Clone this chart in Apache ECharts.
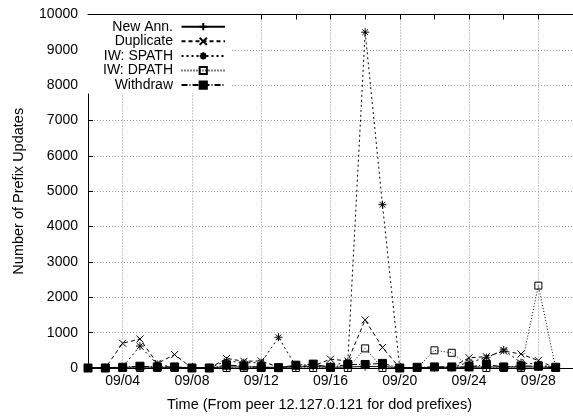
<!DOCTYPE html>
<html>
<head>
<meta charset="utf-8">
<script src="https://cdn.jsdelivr.net/npm/echarts@6/dist/echarts.min.js"></script>
<style>
html,body{margin:0;padding:0;background:#fff;}
#chart{width:573px;height:417px;}
</style>
</head>
<body>
<div id="chart"></div>
<script>
// Categories (days); last one is the axis end with no data
const days = ['09/02','09/03','09/04','09/05','09/06','09/07','09/08','09/09','09/10','09/11',
  '09/12','09/13','09/14','09/15','09/16','09/17','09/18','09/19','09/20','09/21',
  '09/22','09/23','09/24','09/25','09/26','09/27','09/28','09/29','09/30'];

const newAnn    = [10,10,20,30,20,20,10,10,30,30,20,20,30,40,20,30,40,40,10,10,20,20,20,30,30,30,30,10];
const duplicate = [0,0,700,820,130,380,0,0,270,190,200,20,50,60,250,200,1360,580,0,0,20,20,290,320,480,395,210,0];
const spath     = [0,0,30,620,100,20,0,0,200,150,150,870,50,60,50,180,9500,4620,0,0,20,20,160,290,510,150,100,0];
const dpath     = [0,0,0,0,0,0,0,0,0,0,0,0,0,0,0,0,555,0,0,0,500,430,60,0,0,0,2330,0];
const withdraw  = [0,0,20,50,30,30,0,0,80,60,20,10,80,110,20,100,100,130,0,20,30,30,30,100,30,60,50,20];

const yTicks = {min:0, max:10000, step:1000};

const FONT = 'Liberation Sans, Arial, Helvetica, sans-serif';
const PLUS = 'path://M5,0L5,10M0,5L10,5';
const CROSS = 'path://M0,0L10,10M0,10L10,0';
const STAR = 'path://M5,0L5,10M0,5L10,5M1.5,1.5L8.5,8.5M1.5,8.5L8.5,1.5';

function dayNum(v){ return parseInt(v.split('/')[1],10); }

const chart = echarts.init(document.getElementById('chart'), null, {renderer:'canvas'});

function mk(name, data, symbol, size, dash, fill){
  return {
    name: name, type: 'line', data: data,
    symbol: symbol, symbolSize: size, showSymbol: true,
    animation: false,
    color: '#000',
    lineStyle: {color:'#000', width:1, type: dash},
    itemStyle: {color: fill, borderColor:'#000', borderWidth:1},
    emphasis: {disabled:true}
  };
}

chart.setOption({
  animation: false,
  backgroundColor: '#fff',
  grid: {left:88, top:14.5, bottom:48, right:-5, containLabel:false},
  legend: {
    left: 88, top: 15, orient: 'vertical', align: 'right',
    backgroundColor: '#fff',
    padding: [4.4,5,1,5],
    itemGap: 0, itemWidth: 43.5, itemHeight: 9,
    data: ['New Ann.','Duplicate','IW: SPATH','IW: DPATH','Withdraw'],
    formatter: '{a|{name}}',
    textStyle: {
      fontFamily: FONT, fontSize: 14, color:'#000', lineHeight: 14.6,
      rich: {a: {width: 80, align:'right', padding:[0,3.5,0,0], fontFamily: FONT, fontSize:14, lineHeight:14.6, color:'#000'}}
    },
    selectedMode: false
  },
  xAxis: [{
    type:'category', data: days, boundaryGap:false, position:'bottom',
    axisLine:{onZero:false, lineStyle:{color:'#000', width:1}},
    axisTick:{inside:true, length:5, lineStyle:{color:'#000'}, interval:(i,v)=>dayNum(v)%2===0},
    axisLabel:{interval:(i,v)=>dayNum(v)%4===0 && dayNum(v)<30, color:'#000', fontFamily:FONT, fontSize:14, margin:6},
    splitLine:{show:true, interval:(i,v)=>dayNum(v)%4===0, lineStyle:{color:'#999', type:[1,2], width:1}},
    name:'Time (From peer 12.127.0.121 for dod prefixes)', nameLocation:'middle', nameGap:29,
    nameTextStyle:{color:'#000', fontFamily:FONT, fontSize:14.5, padding:[0,22,0,0]}
  },{
    type:'category', data: days, boundaryGap:false, position:'top',
    axisLine:{onZero:false, lineStyle:{color:'#000', width:1}},
    axisTick:{inside:true, length:5, lineStyle:{color:'#000'}, interval:(i,v)=>dayNum(v)%2===0},
    axisLabel:{show:false}, splitLine:{show:false}
  }],
  yAxis: [{
    type:'value', min: yTicks.min, max: yTicks.max, interval: yTicks.step,
    axisLine:{show:true, lineStyle:{color:'#000', width:1}},
    axisTick:{show:true, inside:true, length:5, lineStyle:{color:'#000'}},
    axisLabel:{color:'#000', fontFamily:FONT, fontSize:14, margin:10, formatter:(v)=>String(v)},
    splitLine:{show:true, lineStyle:{color:'#999', type:[1,2], width:1}},
    name:'Number of Prefix Updates', nameLocation:'middle', nameGap:62, nameRotate:90,
    nameTextStyle:{color:'#000', fontFamily:FONT, fontSize:14.5}
  }],
  series: [
    mk('New Ann.', newAnn, PLUS, 8, 'solid', 'rgba(0,0,0,0)'),
    mk('Duplicate', duplicate, CROSS, 7, [4,3], 'rgba(0,0,0,0)'),
    mk('IW: SPATH', spath, STAR, 8, [2,3], 'rgba(0,0,0,0)'),
    mk('IW: DPATH', dpath, 'rect', 7, [1,2], 'rgba(255,255,255,0)'),
    mk('Withdraw', withdraw, 'rect', 8, [6,2,1,2], '#000')
  ]
});
</script>
</body>
</html>
